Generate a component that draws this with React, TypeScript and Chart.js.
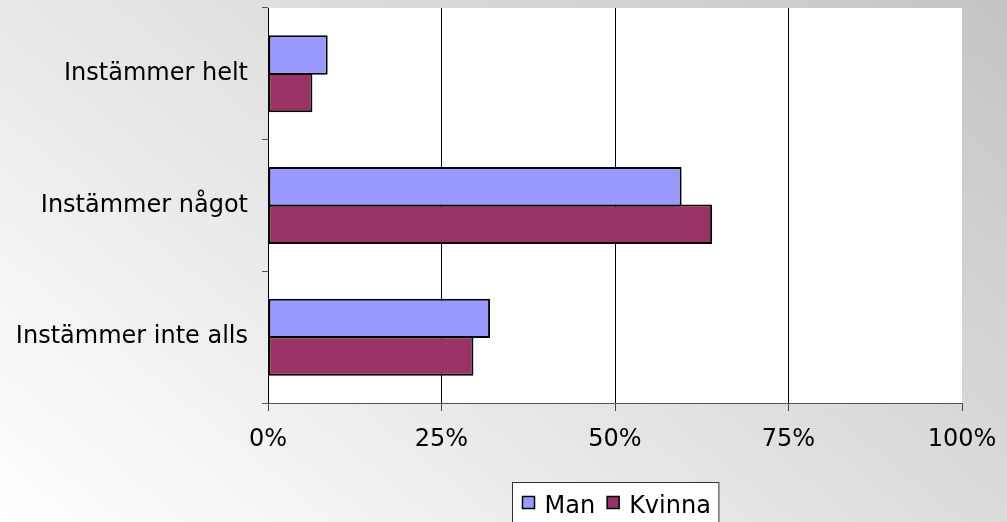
import React, { useEffect, useRef } from "react";
import { Chart, registerables } from "chart.js";

Chart.register(...registerables);

const categories = ["Instämmer helt", "Instämmer något", "Instämmer inte alls"];
const manValues = [8.6, 59.6, 32.0];
const kvinnaValues = [6.4, 64.0, 29.6];
const seriesLabels = ["Man", "Kvinna"];
const seriesColors = ["#9999FF", "#993366"];
const xTickValues = [0, 25, 50, 75, 100];

const FONT = "'DejaVu Sans', Verdana, sans-serif";

const bgPlugin = {
  id: "bgPlugin",
  beforeDraw(chart: any) {
    const { ctx, width, height, chartArea } = chart;
    ctx.save();
    const g = ctx.createLinearGradient(1007, 0, 353, 808);
    g.addColorStop(0, "#c4c4c4");
    g.addColorStop(1, "#ffffff");
    ctx.fillStyle = g;
    ctx.fillRect(0, 0, width, height);
    ctx.fillStyle = "#ffffff";
    ctx.fillRect(chartArea.left, chartArea.top, chartArea.right - chartArea.left, chartArea.bottom - chartArea.top);
    ctx.restore();
  },
};

const legendPlugin = {
  id: "boxLegend",
  afterDraw(chart: any) {
    const { ctx, chartArea } = chart;
    ctx.save();
    ctx.font = `24px ${FONT}`;
    const sq = 12;
    const widths = chart.data.datasets.map((d: any) => ctx.measureText(d.label).width);
    const padL = 10, padR = 8, gapSqText = 10, gapItems = 12;
    let total = padL + padR;
    widths.forEach((w: number, i: number) => {
      total += sq + gapSqText + w + (i > 0 ? gapItems : 0);
    });
    const cx = (chartArea.left + chartArea.right) / 2;
    const left = Math.round(cx - total / 2) + 0.5;
    const top = 482.5;
    ctx.fillStyle = "#ffffff";
    ctx.fillRect(left, top, total, 60);
    ctx.strokeStyle = "#333333";
    ctx.lineWidth = 1;
    ctx.strokeRect(left, top, total, 60);
    let x = left + padL;
    chart.data.datasets.forEach((d: any, i: number) => {
      if (i > 0) x += gapItems;
      ctx.fillStyle = d.backgroundColor;
      ctx.fillRect(x, 496.5, sq, sq);
      ctx.strokeStyle = "#000";
      ctx.lineWidth = 1.5;
      ctx.strokeRect(x, 496.5, sq, sq);
      x += sq + gapSqText;
      ctx.fillStyle = "#000";
      ctx.textBaseline = "alphabetic";
      ctx.textAlign = "left";
      ctx.fillText(d.label, x, 513);
      x += widths[i];
    });
    ctx.restore();
  },
};

export default function App() {
  const ref = useRef<HTMLCanvasElement | null>(null);
  useEffect(() => {
    document.body.style.margin = "0";
    const canvas = ref.current!;
    const chart = new Chart(canvas, {
      type: "bar",
      data: {
        labels: categories,
        datasets: [
          {
            label: seriesLabels[0],
            data: manValues,
            backgroundColor: seriesColors[0],
            borderColor: "#000",
            borderWidth: 2,
            borderSkipped: false,
          },
          {
            label: seriesLabels[1],
            data: kvinnaValues,
            backgroundColor: seriesColors[1],
            borderColor: "#000",
            borderWidth: 2,
            borderSkipped: false,
          },
        ],
      },
      options: {
        indexAxis: "y",
        responsive: false,
        animation: false,
        devicePixelRatio: 1,
        layout: { padding: { top: 8, right: 45, left: 0, bottom: 0 } },
        datasets: { bar: { categoryPercentage: 0.57, barPercentage: 1.05 } },
        plugins: {
          legend: { display: false },
          tooltip: { enabled: false },
        },
        font: { family: FONT },
        scales: {
          x: {
            type: "linear",
            min: 0,
            max: 100,
            afterBuildTicks(scale: any) {
              scale.ticks = xTickValues.map((v) => ({ value: v }));
            },
            afterFit(scale: any) {
              scale.height = 119;
              scale.paddingLeft = 0;
              scale.paddingRight = 0;
            },
            ticks: {
              callback: (v: any) => `${v}%`,
              font: { family: FONT, size: 24 },
              color: "#000",
              padding: 14,
              maxRotation: 0,
            },
            grid: {
              color: (c: any) => (c.index === 4 ? "rgba(0,0,0,0)" : "#000"),
              tickColor: "#444",
              tickLength: 8,
              lineWidth: 1,
            },
            border: { color: "#555", width: 1 },
          },
          y: {
            type: "category",
            offset: true,
            afterFit(scale: any) {
              scale.width = 268;
              scale.paddingTop = 0;
              scale.paddingBottom = 0;
            },
            ticks: {
              font: { family: FONT, size: 24 },
              color: "#000",
              padding: 14,
            },
            grid: {
              offset: true,
              drawOnChartArea: false,
              tickLength: 6,
              tickColor: "#555",
            },
            border: { color: "#000", width: 1 },
          },
        },
      },
      plugins: [bgPlugin, legendPlugin],
    } as any);
    return () => chart.destroy();
  }, []);
  return (
    <div style={{ position: "absolute", left: 0, top: 0, width: 1007, height: 522 }}>
      <canvas ref={ref} width={1007} height={522} style={{ display: "block" }} />
    </div>
  );
}
